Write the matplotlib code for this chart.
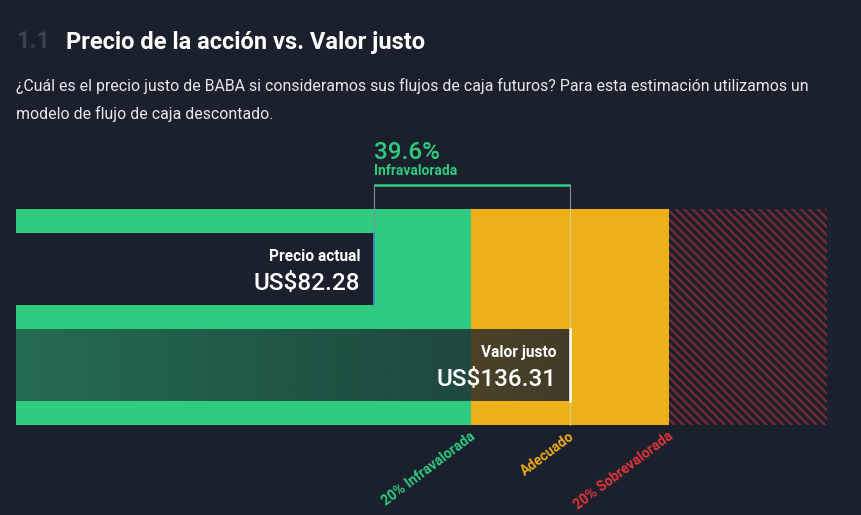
import numpy as np
import matplotlib
matplotlib.use("Agg")
import matplotlib.pyplot as plt
from matplotlib.patches import Rectangle
from matplotlib.colors import to_rgb

# values
precio_actual = 82.28
valor_justo = 136.31
descuento = 39.6
zonas = [0.8, 1.2]  # fraction of fair value: under / over 20%
zona_labels = ["20% Infravalorada", "Adecuado", "20% Sobrevalorada"]

BG = "#1b212c"
GREEN = "#2ecb80"
YELLOW = "#edb219"
RED = "#e0343c"
ORANGE = "#f0a81c"

plt.rcParams["font.family"] = ["Roboto", "DejaVu Sans"]
plt.rcParams["hatch.linewidth"] = 1.7

W, H = 861, 515
fig = plt.figure(figsize=(W / 100, H / 100), dpi=100, facecolor=BG)

def fx(px):
    return px / W

def fy(py):
    return 1 - py / H

# header
fig.text(fx(16), fy(42), "1.1", color="#3b414d", fontsize=17, weight="bold", va="center")
fig.text(fx(66), fy(42), "Precio de la acción vs. Valor justo", color="white",
         fontsize=17, weight="bold", va="center")
fig.text(fx(16), fy(86), "¿Cuál es el precio justo de BABA si consideramos sus flujos de caja futuros? "
         "Para esta estimación utilizamos un", color="#e6e8eb", fontsize=11.4, va="center")
fig.text(fx(16), fy(114), "modelo de flujo de caja descontado.", color="#e6e8eb", fontsize=11.4, va="center")

# bar area
ax = fig.add_axes([fx(16), fy(425), fx(827) - fx(16), (425 - 209) / H])
ax.set_facecolor(BG)
x0, x1 = -16.2, 207.1
ax.axis("off")

lo, hi = zonas[0] * valor_justo, zonas[1] * valor_justo
ax.axvspan(x0, lo, color=GREEN, lw=0)
ax.axvspan(lo, hi, color=YELLOW, lw=0)
ax.add_patch(Rectangle((hi, 0), x1 - hi, 216, facecolor=BG, edgecolor="#742a32",
                       hatch="\\" * 4, lw=0))

# price bar
ax.add_patch(Rectangle((x0, 24), precio_actual - x0, 72, facecolor=BG, edgecolor="none", zorder=3))
ax.plot([precio_actual, precio_actual], [24, 96], color="#3a8fd9", lw=1.2, zorder=4)

# fair value bar: dark overlay with alpha gradient
n = 256
alpha = np.linspace(0.56, 0.82, n)
img = np.zeros((1, n, 4))
img[..., :3] = to_rgb(BG)
img[0, :, 3] = alpha
ax.imshow(img, extent=(x0, valor_justo, 192, 120), aspect="auto", zorder=3, interpolation="bilinear")
ax.set_xlim(x0, x1)
ax.set_ylim(216, 0)
ax.plot([valor_justo, valor_justo], [120, 192], color="white", lw=1.8, zorder=4)

# guide lines & bracket
ax.plot([precio_actual, precio_actual], [-24, 24], color="#8a8f98", lw=0.8, zorder=2, clip_on=False)
ax.plot([valor_justo, valor_justo], [-24, 216], color="#d9d9d9", lw=0.8, alpha=0.6, zorder=2, clip_on=False)
ax.plot([precio_actual, valor_justo], [-24, -24], color=GREEN, lw=1.8, zorder=4, clip_on=False,
        solid_capstyle="butt")

ax.text(precio_actual, -50, f"{descuento}%", color=GREEN, fontsize=17.5, weight="medium",
        va="baseline", ha="left")
ax.text(precio_actual, -34, "Infravalorada", color=GREEN, fontsize=10, weight="bold",
        va="baseline", ha="left")

# bar labels
ax.annotate("Precio actual", (precio_actual, 52), xytext=(-9.5, 0), textcoords="offset points",
            color="white", fontsize=11.2, weight="bold", ha="right", va="baseline", zorder=5)
ax.annotate(f"US${precio_actual:.2f}", (precio_actual, 81), xytext=(-9.5, 0), textcoords="offset points",
            color="white", fontsize=17.5, weight="medium", ha="right", va="baseline", zorder=5)
ax.annotate("Valor justo", (valor_justo, 148), xytext=(-9.5, 0), textcoords="offset points",
            color="white", fontsize=11.2, weight="bold", ha="right", va="baseline", zorder=5)
ax.annotate(f"US${valor_justo:.2f}", (valor_justo, 177), xytext=(-9.5, 0), textcoords="offset points",
            color="white", fontsize=17.5, weight="medium", ha="right", va="baseline", zorder=5)

# zone labels
for xv, lab, col in zip([lo, valor_justo, hi], zona_labels, [GREEN, ORANGE, RED]):
    ax.annotate(lab, (xv, 216), xytext=(-1, -3), textcoords="offset points", color=col,
                fontsize=10, weight="bold", ha="right", va="top", rotation=37,
                rotation_mode="anchor", annotation_clip=False)

fig.savefig("out.png", dpi=100, facecolor=BG)
